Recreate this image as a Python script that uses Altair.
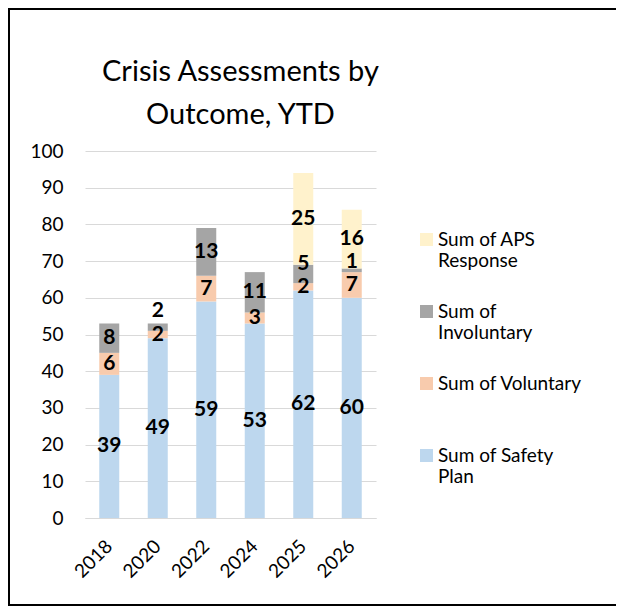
import altair as alt
import pandas as pd

# ---- data ----
years = ["2018", "2020", "2022", "2024", "2025", "2026"]
safety_plan = [39, 49, 59, 53, 62, 60]
voluntary = [6, 2, 7, 3, 2, 7]
involuntary = [8, 2, 13, 11, 5, 1]
aps_response = [0, 0, 0, 0, 25, 16]

series_names = ["Sum of Safety Plan", "Sum of Voluntary", "Sum of Involuntary", "Sum of APS Response"]
series_values = [safety_plan, voluntary, involuntary, aps_response]
series_colors = ["#BDD7EE", "#F8CBAD", "#A5A5A5", "#FFF2CC"]
legend_order = ["Sum of APS Response", "Sum of Involuntary", "Sum of Voluntary", "Sum of Safety Plan"]
y_ticks = list(range(0, 101, 10))
title_lines = ["Crisis Assessments by", "Outcome, YTD"]

FONT = "Lato"

rows = []
for i, yr in enumerate(years):
    base = 0
    prev_label = -100
    for k, (name, vals) in enumerate(zip(series_names, series_values)):
        v = vals[i]
        if v == 0:
            continue
        mid = base + v / 2
        ly = max(mid, prev_label + 6.3)  # simple overlap avoidance like Excel
        prev_label = ly
        rows.append(dict(year=yr, series=name, order=k, value=v,
                         y0=base, y1=base + v, label_y=ly))
        base += v
df = pd.DataFrame(rows)

color_scale = alt.Scale(domain=legend_order,
                        range=[series_colors[series_names.index(n)] for n in legend_order])

label_expr = (
    "datum.label == 'Sum of APS Response' ? ['Sum of APS', 'Response'] : "
    "datum.label == 'Sum of Involuntary' ? ['Sum of', 'Involuntary'] : "
    "datum.label == 'Sum of Safety Plan' ? ['Sum of Safety', 'Plan'] : "
    "[datum.label, '']"
)

x_axis = alt.Axis(labelAngle=315, labelAlign="right", labelBaseline="middle",
                  labelFontSize=19, labelFont=FONT, labelColor="#000000",
                  labelPadding=25, ticks=False, domain=True,
                  domainColor="#D9D9D9", grid=False)
y_axis = alt.Axis(values=y_ticks, labelFontSize=19, labelFont=FONT,
                  labelColor="#000000", labelPadding=22, ticks=False,
                  domain=False, grid=True, gridColor="#D9D9D9", gridWidth=1)
x_scale = alt.Scale(paddingInner=0, paddingOuter=0)
y_scale = alt.Scale(domain=[0, 100], nice=False)

bars = alt.Chart(df).mark_bar(size=20).encode(
    x=alt.X("year:N", sort=years, title=None, scale=x_scale, axis=x_axis),
    y=alt.Y("y0:Q", scale=y_scale, title=None, axis=y_axis),
    y2="y1:Q",
    color=alt.Color("series:N", scale=color_scale, sort=legend_order,
                    legend=alt.Legend(title=None, orient="none", legendX=332, legendY=79,
                                      symbolType="square", symbolSize=169,
                                      symbolStrokeWidth=0, labelFont=FONT,
                                      labelFontSize=19, labelColor="#000000",
                                      labelOffset=2, rowPadding=31, padding=0,
                                      labelLimit=300, labelExpr=label_expr)),
)

labels = alt.Chart(df).mark_text(fontWeight="bold", fontSize=21, font=FONT,
                                 color="#000000", baseline="middle").encode(
    x=alt.X("year:N", sort=years, title=None, scale=x_scale, axis=x_axis),
    y=alt.Y("label_y:Q", scale=y_scale, title=None, axis=y_axis),
    text="value:Q",
)

border = alt.Chart(alt.Data(values=[{"k": 1}])).mark_rect(
    fill=None, stroke="#000000", strokeWidth=2
).encode(
    x=alt.value(-76), x2=alt.value(540), y=alt.value(-142), y2=alt.value(454)
)

chart = alt.layer(border, bars, labels).properties(
    width=291,
    height=367,
    background="white",
    title=alt.TitleParams(text=title_lines, font=FONT, fontSize=29, fontWeight="normal",
                          color="#000000", anchor="middle", dx=10, offset=0, dy=122,
                          lineHeight=43),
    autosize=alt.AutoSizeParams(type="none"),
    padding={"left": 77, "top": 143, "right": 240, "bottom": 88},
).configure_view(stroke="transparent", strokeWidth=0)

chart.save("out.html", embed_options={"renderer": "svg", "actions": False})
